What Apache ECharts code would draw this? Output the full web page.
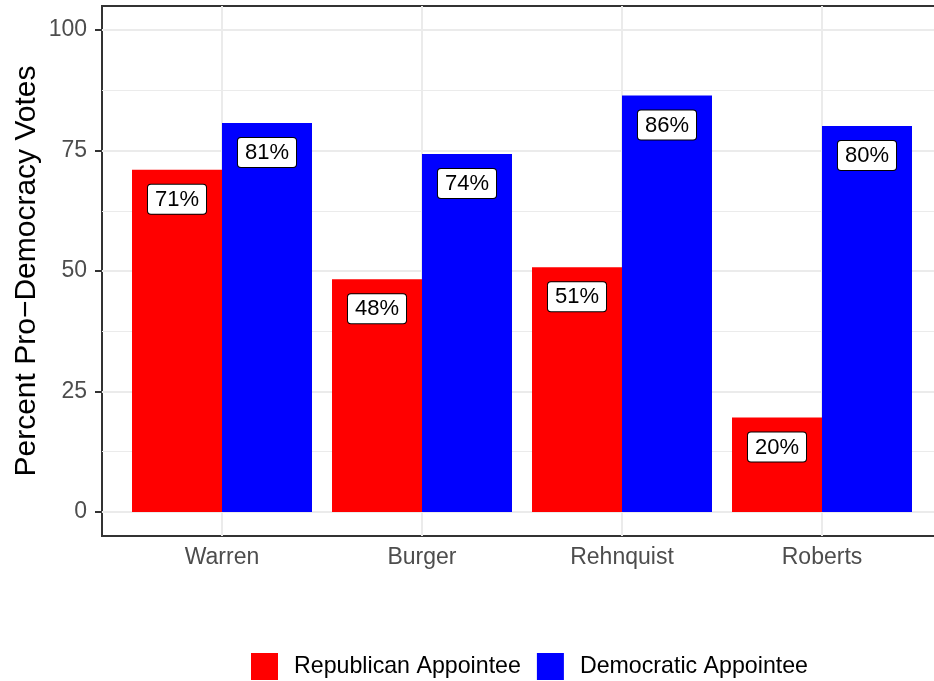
<!DOCTYPE html>
<html>
<head>
<meta charset="utf-8">
<script src="https://cdn.jsdelivr.net/npm/echarts@6/dist/echarts.min.js"></script>
<style>
html,body{margin:0;padding:0;background:#fff;overflow:hidden;}
#chart{width:950px;height:681px;}
</style>
</head>
<body>
<div id="chart"></div>
<script>
const categories = ['Warren', 'Burger', 'Rehnquist', 'Roberts'];
const republican = [71.0, 48.3, 50.8, 19.6];
const democratic = [80.7, 74.3, 86.4, 80.1];
const yTicks = [0, 25, 50, 75, 100];
const yMinor = [12.5, 37.5, 62.5, 87.5];
const xPositions = categories.map((c, i) => i + 1);
const seriesNames = ['Republican Appointee', 'Democratic Appointee'];

const FONT = '"Liberation Sans", Arial, Helvetica, sans-serif';
const chart = echarts.init(document.getElementById('chart'), null, {renderer: 'canvas'});

const labelStyle = {
  show: true,
  position: 'insideTop',
  distance: 15,
  formatter: p => Math.round(p.value[1]) + '%',
  color: '#000',
  fontFamily: FONT,
  fontSize: 22,
  backgroundColor: '#fff',
  borderColor: '#000',
  borderWidth: 1,
  borderRadius: 3,
  padding: [4, 7, 3, 7]
};

const gridLines = {
  silent: true,
  symbol: 'none',
  z: 1,
  label: {show: false},
  animation: false,
  data: [
    ...yMinor.map(v => ({yAxis: v, lineStyle: {color: '#EBEBEB', width: 1, type: 'solid'}})),
    ...yTicks.map(v => ({yAxis: v, lineStyle: {color: '#EBEBEB', width: 2, type: 'solid'}})),
    ...xPositions.map(v => ({xAxis: v, lineStyle: {color: '#EBEBEB', width: 2, type: 'solid'}}))
  ]
};

chart.setOption({
  animation: false,
  backgroundColor: '#fff',
  textStyle: {fontFamily: FONT},
  grid: {
    left: 102, top: 6, width: 840, height: 530,
    show: true, borderColor: '#333333', borderWidth: 2, backgroundColor: '#fff'
  },
  legend: {
    data: seriesNames,
    left: 251, top: 653,
    padding: 0,
    icon: 'rect',
    itemWidth: 27, itemHeight: 27,
    itemGap: 16,
    textStyle: {fontSize: 23.2, color: '#000', fontFamily: FONT, padding: [0, 0, 0, 11]}
  },
  xAxis: {
    type: 'value', min: 0.4, max: 4.6,
    axisLine: {show: false},
    splitLine: {show: false},
    axisTick: {show: true, length: 7, customValues: xPositions, lineStyle: {color: '#333333', width: 2}},
    axisLabel: {
      customValues: xPositions,
      formatter: v => categories[Math.round(v) - 1] || '',
      color: '#4D4D4D', fontSize: 23, fontFamily: FONT, margin: 10
    }
  },
  yAxis: {
    type: 'value', min: -5, max: 105,
    name: 'Percent Pro\u2212Democracy Votes',
    nameLocation: 'middle', nameGap: 60, nameMoveOverlap: false,
    nameTextStyle: {fontSize: 30, color: '#000', fontFamily: FONT},
    axisLine: {show: false},
    splitLine: {show: false},
    axisTick: {show: true, length: 7, customValues: yTicks, lineStyle: {color: '#333333', width: 2}},
    axisLabel: {customValues: yTicks, color: '#4D4D4D', fontSize: 23, fontFamily: FONT, margin: 15}
  },
  series: [
    {
      name: 'gridlines', type: 'line', data: [], z: 1,
      silent: true, showSymbol: false,
      markLine: gridLines
    },
    {
      name: seriesNames[0], type: 'bar', z: 2,
      barGap: '0%', barCategoryGap: '10%',
      itemStyle: {color: '#FF0000'},
      label: labelStyle,
      data: categories.map((c, i) => [xPositions[i], republican[i]])
    },
    {
      name: seriesNames[1], type: 'bar', z: 2,
      barGap: '0%', barCategoryGap: '10%',
      itemStyle: {color: '#0000FF'},
      label: labelStyle,
      data: categories.map((c, i) => [xPositions[i], democratic[i]])
    }
  ]
});
</script>
</body>
</html>
